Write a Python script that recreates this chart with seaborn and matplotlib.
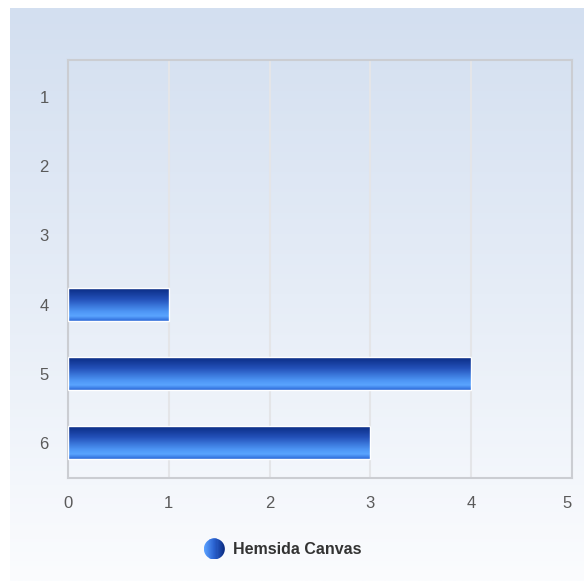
import numpy as np
import pandas as pd
import matplotlib
matplotlib.use('Agg')
import matplotlib.pyplot as plt
import seaborn as sns
from matplotlib.colors import LinearSegmentedColormap
from matplotlib.lines import Line2D
from matplotlib.patches import Circle, Rectangle
from matplotlib.legend_handler import HandlerBase
from matplotlib.transforms import ScaledTranslation

categories = ['1', '2', '3', '4', '5', '6']
values = [0, 0, 0, 1, 4, 3]
series_name = 'Hemsida Canvas'
x_ticks = [0, 1, 2, 3, 4, 5]

df = pd.DataFrame({'cat': categories, 'val': values})

sns.set_style('white')
plt.rcParams['font.family'] = ['Liberation Sans', 'DejaVu Sans']

W, H = 584, 581
fig = plt.figure(figsize=(W / 100, H / 100), dpi=100)
fig.patch.set_facecolor('white')

# background panel with vertical gradient
bg = fig.add_axes([10 / W, 0, 1 - 10 / W, (H - 8) / H])
bg_cmap = LinearSegmentedColormap.from_list('bg', ['#d3dff0', '#e6edf7', '#fbfcfe'])
bg.imshow(np.linspace(0, 1, 256).reshape(-1, 1), aspect='auto', cmap=bg_cmap,
          extent=[0, 1, 0, 1], origin='upper')
bg.set_axis_off()

ax = fig.add_axes([68 / W, 1 - 478 / H, (572 - 68) / W, (478 - 60) / H])
ax.set_facecolor('none')
ax.set_zorder(2)

sns.barplot(data=df, x='val', y='cat', orient='h', width=0.48, color='#2a62d0',
            edgecolor='white', linewidth=1.0, ax=ax, zorder=3)

# gradient fill for each bar
bar_cmap = LinearSegmentedColormap.from_list(
    'bar', [(0, '#08297f'), (0.35, '#2350b8'), (0.72, '#4d95f5'), (0.86, '#5aa4ff'), (1, '#2d6ad8')])
grad = np.linspace(0, 1, 64).reshape(-1, 1)
for p in ax.patches:
    w = p.get_width()
    if w <= 0:
        p.set_visible(False)
        continue
    y0 = p.get_y()
    h = p.get_height()
    im = ax.imshow(grad, aspect='auto', cmap=bar_cmap, extent=[0, w, y0 + h, y0],
                   origin='upper', zorder=3.5)
    im.set_clip_path(p)
    p.set_facecolor('none')
    p.set_zorder(4)

ax.set_xlim(0, 5)
ax.set_ylim(5.51, -0.54)
ax.set_xticks(x_ticks)
ax.set_xticklabels([str(t) for t in x_ticks])
ax.xaxis.grid(True, color='#e4e5e8', linewidth=1.5)
ax.set_axisbelow(True)
ax.set_xlabel('')
ax.set_ylabel('')
ax.tick_params(axis='both', length=0, labelsize=12, labelcolor='#5a5a5a')
ax.tick_params(axis='x', pad=13)
ax.tick_params(axis='y', pad=14)
# last x label sits a little inside the frame
last = ax.get_xticklabels()[-1]
last.set_transform(last.get_transform() + ScaledTranslation(-5 / 100, 0, fig.dpi_scale_trans))
for s in ax.spines.values():
    s.set_visible(True)
    s.set_color('#cbcdd2')
    s.set_linewidth(1.5)


class SphereHandler(HandlerBase):
    def create_artists(self, legend, orig_handle, xdescent, ydescent, width, height,
                       fontsize, trans):
        r = 10.5 * 72 / 100
        cx = width / 2 - xdescent
        cy = height / 2 - ydescent
        circ = Circle((cx, cy), r, facecolor='none', edgecolor='none', transform=trans)
        cmap = LinearSegmentedColormap.from_list('sph', ['#5aa0ff', '#2a62d0', '#0a2a80'])
        arts = [circ]
        n = 20
        for i in range(n):
            rect = Rectangle((cx - r + 2 * r * i / n, cy - r), 2 * r / n + 0.3, 2 * r,
                             facecolor=cmap(i / (n - 1)), edgecolor='none', transform=trans)
            rect.set_clip_path(circ)
            arts.append(rect)
        return arts


handle = Line2D([], [], marker='o', linestyle='none')
leg = fig.legend([handle], [series_name], loc='center', bbox_to_anchor=(283 / W, 1 - 550 / H),
                 frameon=False, handletextpad=0.55, handlelength=1.2,
                 handler_map={Line2D: SphereHandler()},
                 prop={'weight': 'bold', 'size': 11.5})
for t in leg.get_texts():
    t.set_color('#333333')

fig.savefig('out.png', dpi=100)
